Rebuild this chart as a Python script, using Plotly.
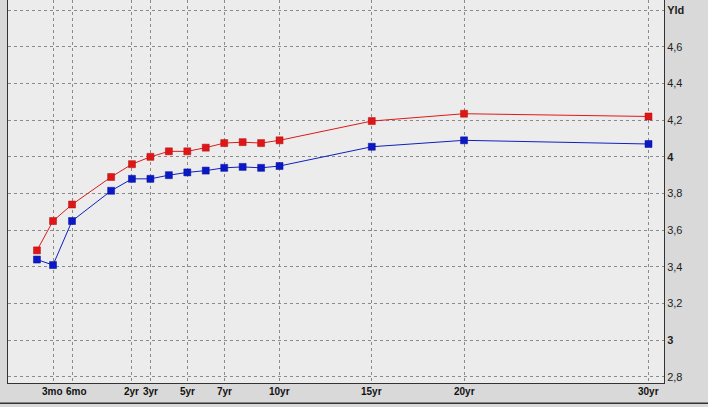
import plotly.graph_objects as go

# Maturity labels and their positions on the chart's (stretched short-end) axis
maturities = ["1mo", "3mo", "6mo", "1yr", "2yr", "3yr", "4yr", "5yr", "6yr",
              "7yr", "8yr", "9yr", "10yr", "15yr", "20yr", "30yr"]
maturity_pos = [-3.15, -2.28, -1.25, 0.87, 2, 3, 4, 5, 6, 7, 8, 9, 10, 15, 20, 30]

# Yield curves
red_yld = [3.49, 3.65, 3.74, 3.89, 3.96, 4.00, 4.03, 4.03, 4.05, 4.075, 4.08,
           4.075, 4.09, 4.195, 4.235, 4.22]
blue_yld = [3.44, 3.41, 3.65, 3.815, 3.88, 3.88, 3.90, 3.915, 3.925, 3.94, 3.945,
            3.94, 3.95, 4.055, 4.09, 4.07]

# Axis ticks
x_tick_labels = ["3mo", "6mo", "2yr", "3yr", "5yr", "7yr", "10yr", "15yr", "20yr", "30yr"]
x_tick_pos = [-2.28, -1.25, 2, 3, 5, 7, 10, 15, 20, 30]
y_tick_vals = [2.8, 3.0, 3.2, 3.4, 3.6, 3.8, 4.0, 4.2, 4.4, 4.6, 4.8]
y_tick_text = ["2,8", "<b>3</b>", "3,2", "3,4", "3,6", "3,8", "<b>4</b>",
               "4,2", "4,4", "4,6", "<b>Yld</b>"]

fig = go.Figure()
fig.add_trace(go.Scatter(
    x=maturity_pos, y=red_yld, mode="lines+markers", name="red",
    text=maturities,
    line=dict(color="#dd1a1a", width=1),
    marker=dict(symbol="square", size=7, color="#e01515",
                line=dict(color="#b01010", width=0.5)),
))
fig.add_trace(go.Scatter(
    x=maturity_pos, y=blue_yld, mode="lines+markers", name="blue",
    text=maturities,
    line=dict(color="#1020c0", width=1),
    marker=dict(symbol="square", size=7, color="#0a18c8",
                line=dict(color="#081090", width=0.5)),
))

# x tick labels drawn as annotations (so the crowded short end can be nudged apart)
annotations = []
for pos, lab in zip(x_tick_pos, x_tick_labels):
    annotations.append(dict(
        x=pos, xref="x", y=0, yref="paper", yanchor="top", yshift=-1,
        xshift=4 if lab == "6mo" else (-1 if lab == "3mo" else 0),
        text="<b>%s</b>" % lab, showarrow=False,
        font=dict(size=10, color="#111", family="Liberation Sans, Arial, sans-serif"),
    ))

fig.update_layout(
    width=708, height=407,
    margin=dict(l=8, r=44, t=0, b=24, autoexpand=False),
    paper_bgcolor="#d9d9d9",
    plot_bgcolor="#ececec",
    showlegend=False,
    font=dict(family="Liberation Sans, Arial, sans-serif", size=11, color="#111"),
    annotations=annotations,
    shapes=[dict(type="line", xref="paper", yref="paper",
                 x0=-0.02, x1=1.1, y0=-0.053, y1=-0.053,
                 line=dict(color="#333", width=1.5))],
)
fig.update_xaxes(
    range=[-4.72, 30.84], automargin=False,
    tickvals=x_tick_pos, showticklabels=False,
    showgrid=True, gridcolor="#8a8a8a", griddash="3px,3px", gridwidth=1,
    zeroline=False, showline=True, linecolor="#333", linewidth=1,
    ticks="", ticklen=0,
)
fig.update_yaxes(
    range=[2.767, 4.855], side="right", automargin=False,
    tickvals=y_tick_vals, ticktext=y_tick_text,
    tickfont=dict(size=11, color="#222"),
    showgrid=True, gridcolor="#8a8a8a", griddash="3px,3px", gridwidth=1,
    zeroline=False, showline=True, mirror=True, linecolor="#333", linewidth=1,
    ticks="", ticklen=0,
)

fig.write_html("out.html", config={"displayModeBar": False},
               post_script="document.body.style.margin='0';document.body.style.overflow='hidden';")
